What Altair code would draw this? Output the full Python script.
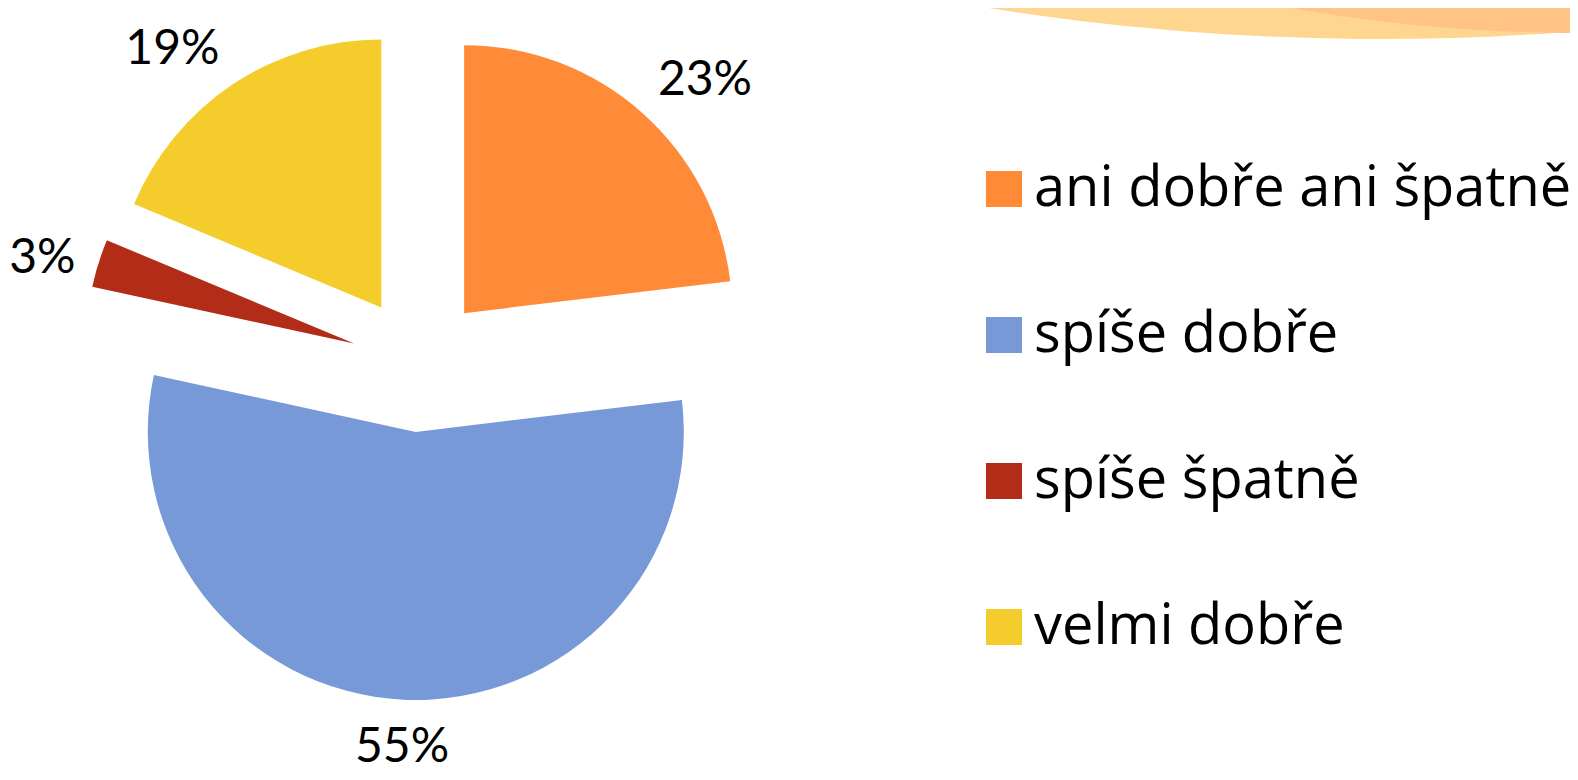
import altair as alt
import pandas as pd

categories = ["ani dobře ani špatně", "spíše dobře", "spíše špatně", "velmi dobře"]
values = [23.1, 55.3, 2.9, 18.7]
labels = ["23%", "55%", "3%", "19%"]
colors = ["#FF8A37", "#7799D8", "#B22C18", "#F4CD2D"]

df = pd.DataFrame({"cat": categories, "value": values, "label": labels, "order": list(range(len(categories)))})

CX, CY, R, EXPLODE, LR = 411, 356, 268, 68, 292
CAP = 34
FONT = "Lato"

# decorative slide swoosh (top right)
deco_df = pd.DataFrame({"k": [0]})
deco_light = alt.Chart(deco_df).mark_arc(
    radius=2482, theta=2.7, theta2=3.6, fill="#FFD690", stroke=None
).encode(x=alt.value(1372), y=alt.value(31 - 2482))
deco_dark = alt.Chart(deco_df).mark_arc(
    radius=1660, theta=2.7, theta2=3.6, fill="#FFC484", stroke=None
).encode(x=alt.value(1570), y=alt.value(25 - 1660))

base = (
    alt.Chart(df)
    .transform_window(cum="sum(value)", sort=[alt.SortField("order")], frame=[None, 0])
    .transform_joinaggregate(total="sum(value)")
    .transform_calculate(
        t1="2*PI*(datum.cum - datum.value)/datum.total",
        t2="2*PI*datum.cum/datum.total",
    )
    .transform_calculate(mid="(datum.t1 + datum.t2)/2")
    .transform_calculate(
        px=f"{CX} + {EXPLODE}*sin(datum.mid)",
        py=f"{CY} - {EXPLODE}*cos(datum.mid)",
        s="sin(datum.mid)",
        c="cos(datum.mid)",
    )
    .transform_calculate(
        lx=f"datum.px + {LR}*datum.s",
        ly=f"datum.py - {LR}*datum.c + (datum.c > 0.5 ? 0 : (datum.c < -0.5 ? {CAP} + 4 : {CAP}/2))",
    )
)

arcs = base.mark_arc(radius=R, stroke=None).encode(
    theta=alt.Theta("t1:Q", scale=None),
    theta2="t2:Q",
    x=alt.X("px:Q", scale=None),
    y=alt.Y("py:Q", scale=None),
    color=alt.Color(
        "cat:N",
        scale=alt.Scale(domain=categories, range=colors),
        legend=alt.Legend(
            title=None,
            orient="none",
            legendX=968,
            legendY=153,
            symbolType="square",
            symbolSize=1300,
            symbolStrokeWidth=0,
            symbolOpacity=1,
            labelFontSize=56,
            labelFont="Open Sans",
            labelColor="black",
            labelOffset=2,
            rowPadding=90,
            labelLimit=800,
        ),
    ),
)

def label_layer(cond, align):
    return base.transform_filter(cond).mark_text(
        fontSize=48, font=FONT, color="black", align=align, baseline="alphabetic"
    ).encode(
        x=alt.X("lx:Q", scale=None),
        y=alt.Y("ly:Q", scale=None),
        text="label:N",
    )

texts_r = label_layer("datum.s > 0.3", "left")
texts_l = label_layer("datum.s < -0.3", "right")
texts_c = label_layer("abs(datum.s) <= 0.3", "center")

chart = (
    alt.layer(deco_light, deco_dark, arcs, texts_r, texts_l, texts_c)
    .properties(width=1562, height=764, padding=0, autosize=alt.AutoSizeParams(type="none"), background="white")
    .configure_view(stroke=None)
)

chart.save("out.html", embed_options={"renderer": "svg", "actions": False})
